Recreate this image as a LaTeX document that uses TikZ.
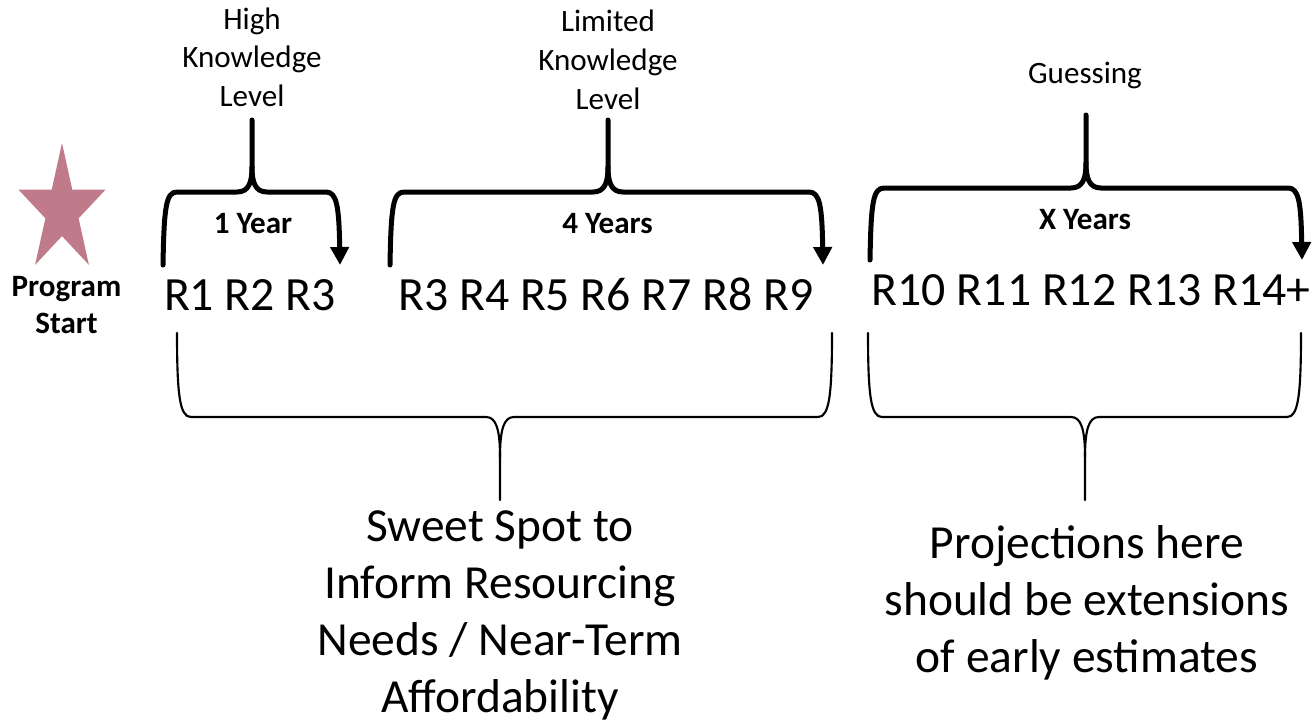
\documentclass[tikz,border=0pt]{standalone}
\usepackage{fontspec}
\setmainfont{Carlito}
\usetikzlibrary{arrows.meta}
\definecolor{starpink}{RGB}{192,123,139}
\newcommand\TopBrace[6]{% #1 left, #2 middle, #3 right, #4 tip top, #5 bar y, #6 leg bottom
  \draw[thickbrace] (#1,#6) .. controls ({#1+1},{#5+15}) and ({#1+3},#5) .. ({#1+14},#5)
     -- ({#2-15},#5) .. controls ({#2-3},#5) and (#2,{#5-10}) .. (#2,{#5-25}) -- (#2,#4);
  \draw[arrowbrace] (#2,{#5-25}) .. controls (#2,{#5-10}) and ({#2+3},#5) .. ({#2+15},#5)
     -- ({#3-14},#5) .. controls ({#3-3},#5) and ({#3-1},{#5+15}) .. (#3,#6);
}
\newcommand\BottomBrace[6]{% #1 left, #2 middle, #3 right, #4 leg top, #5 bar y, #6 tip bottom
  \draw[thinbrace] (#1,#4) .. controls (#1,{#5-20}) and ({#1+3},#5) .. ({#1+14},#5)
     -- ({#2-14},#5) .. controls ({#2-4},#5) and (#2,{#5+12}) .. (#2,{#5+40}) -- (#2,#6);
  \draw[thinbrace] (#3,#4) .. controls (#3,{#5-20}) and ({#3-3},#5) .. ({#3-14},#5)
     -- ({#2+14},#5) .. controls ({#2+4},#5) and (#2,{#5+12}) .. (#2,{#5+40});
}
\begin{document}
\begin{tikzpicture}[x=0.75pt,y=-0.75pt,
  thickbrace/.style={line width=3.75pt, line cap=round, line join=round},
  thinbrace/.style={line width=1.6pt, line cap=round, line join=round},
  arrowbrace/.style={thickbrace, -{Triangle[length=13.5pt,width=13.5pt]}},
  rlabel/.style={font=\fontsize{35.8pt}{43pt}\selectfont, anchor=base, inner sep=0pt},
  toplabel/.style={font=\fontsize{23.3pt}{29.25pt}\selectfont, align=center, anchor=base, inner sep=0pt},
  yearlabel/.style={font=\bfseries\fontsize{23.3pt}{28pt}\selectfont, anchor=base, inner sep=0pt},
  startlabel/.style={font=\bfseries\fontsize{23.3pt}{27.75pt}\selectfont, align=center, anchor=base, inner sep=0pt},
  biglabel/.style={font=\fontsize{35.6pt}{42.75pt}\selectfont, align=center, anchor=base, inner sep=0pt},
]
\useasboundingbox (0,0) rectangle (1313,724);

% star
\coordinate (star) at (62,210.4);
\fill[starpink, shift={(star)}, xscale=0.68]
  (-90:67.4) -- (-54:25.7) -- (-18:67.4) -- (18:25.7) -- (54:67.4) -- (90:25.7)
  -- (126:67.4) -- (162:25.7) -- (198:67.4) -- (234:25.7) -- cycle;
\node[startlabel] (start) at (66.5,333) {Program\\Start};

% top labels (base = last line)
\node[toplabel] (high) at (252,107) {High\\Knowledge\\Level};
\node[toplabel] (limited) at (608,109) {Limited\\Knowledge\\Level};
\node[toplabel] (guess) at (1085,84) {Guessing};

% top braces
\TopBrace{163}{252}{340}{120}{192}{265}
\TopBrace{390}{608}{823}{120}{192}{265}
\TopBrace{870}{1086}{1302}{115}{188}{260}

\node[yearlabel] (y1) at (253,233) {1 Year};
\node[yearlabel] (y4) at (607.5,233) {4 Years};
\node[yearlabel] (yx) at (1085,229) {X Years};

% release labels
\node[rlabel] (r1) at (250,310) {R1 R2 R3};
\node[rlabel] (r2) at (606,310) {R3 R4 R5 R6 R7 R8 R9};
\node[rlabel] (r3) at (1091,305) {R10 R11 R12 R13 R14+};

% bottom braces
\BottomBrace{177}{500}{832}{333}{417}{500}
\BottomBrace{868}{1085}{1301}{333}{417}{500}

\node[biglabel] (sweet) at (500,712) {Sweet Spot to\\Inform Resourcing\\Needs / Near-Term\\Affordability};
\node[biglabel] (proj) at (1087,672) {Projections here\\should be extensions\\of early estimates};
\end{tikzpicture}
\end{document}
